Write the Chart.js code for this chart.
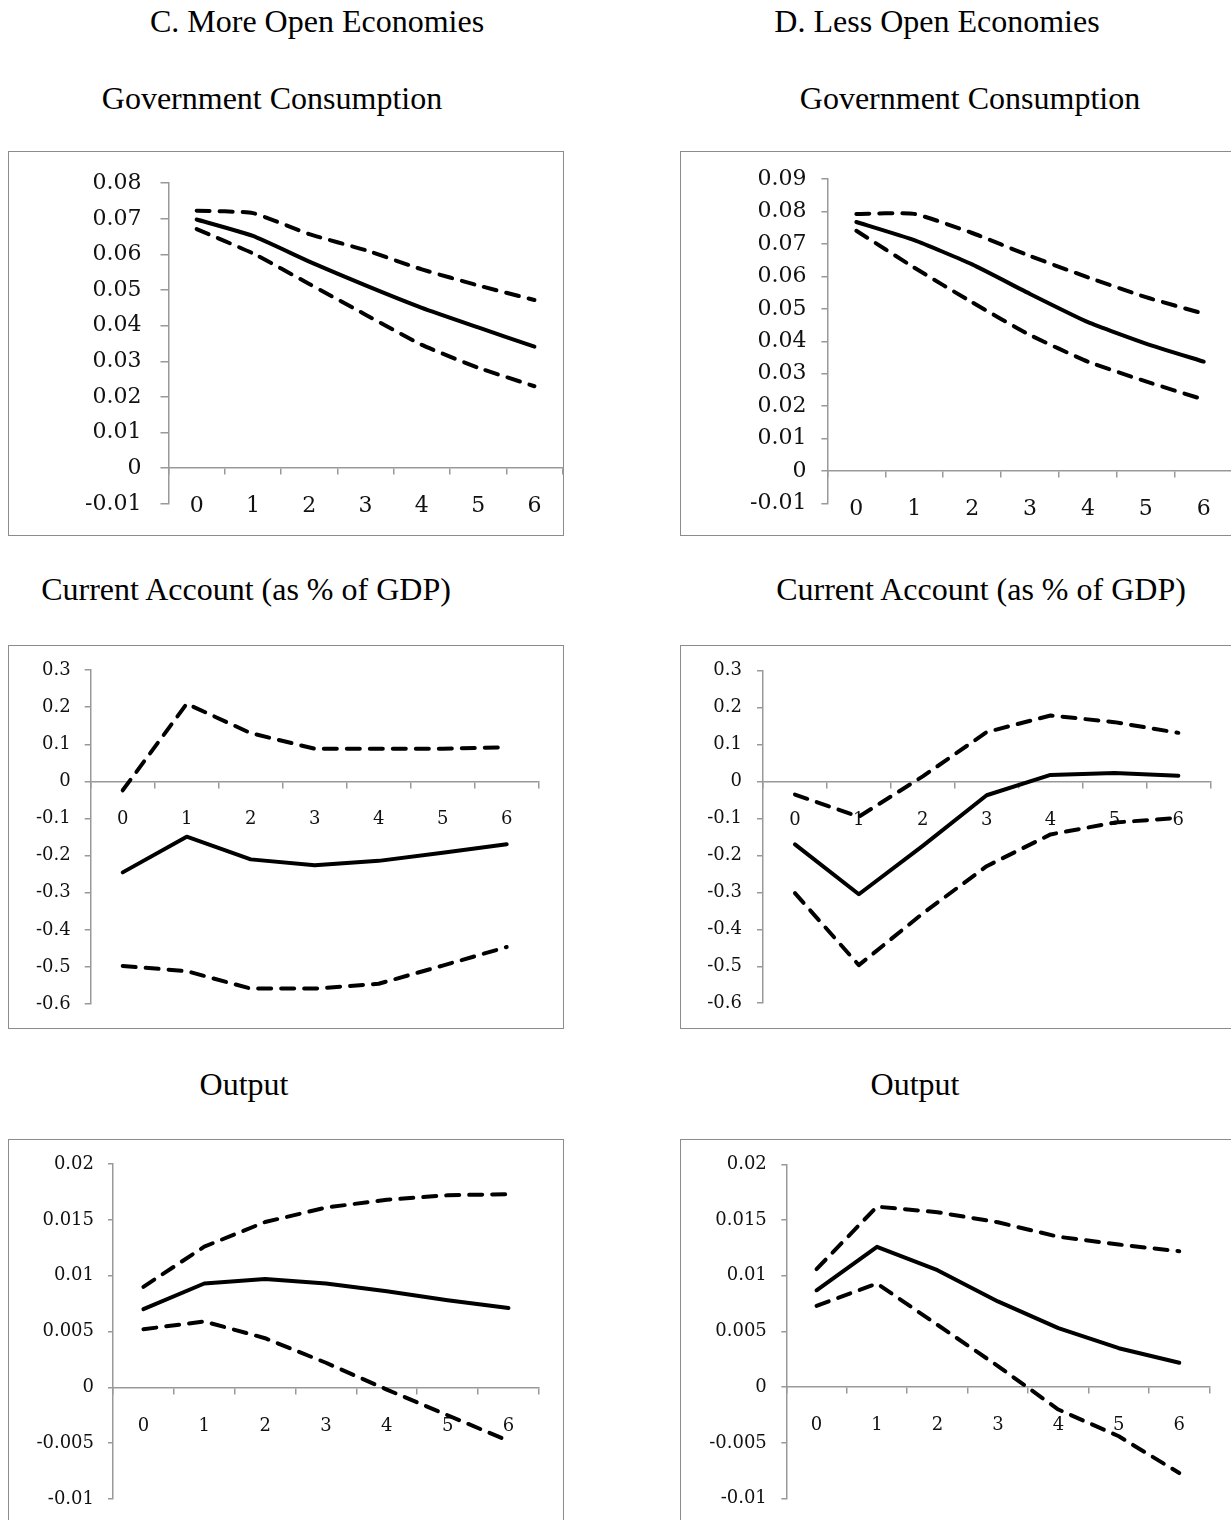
<!DOCTYPE html>
<html>
<head>
<meta charset="utf-8">
<script src="https://cdn.jsdelivr.net/npm/chart.js@4/dist/chart.umd.min.js"></script>
<style>
  html, body { margin: 0; padding: 0; background: #fff; }
  body { width: 1231px; height: 1520px; overflow: hidden; position: relative; }
  .lbl {
    position: absolute; width: 600px; text-align: center;
    font-family: "Liberation Serif", "Times New Roman", serif;
    font-size: 32px; line-height: 32px; color: #000; white-space: nowrap;
  }
  .box { position: absolute; box-sizing: border-box; border: 1.5px solid #8c8c8c; }
  canvas { position: absolute; }
</style>
</head>
<body>

<div class="lbl" style="left:17px; top:5px;">C. More Open Economies</div>
<div class="lbl" style="left:637px; top:5px;">D. Less Open Economies</div>
<div class="lbl" style="left:-28px; top:82px;">Government Consumption</div>
<div class="lbl" style="left:670px; top:82px;">Government Consumption</div>
<div class="lbl" style="left:-54px; top:573px;">Current Account (as % of GDP)</div>
<div class="lbl" style="left:681px; top:573px;">Current Account (as % of GDP)</div>
<div class="lbl" style="left:-56px; top:1068px;">Output</div>
<div class="lbl" style="left:615px; top:1068px;">Output</div>

<div class="box" style="left:8px; top:151px; width:556px; height:385px;"></div>
<canvas id="govMore" width="556" height="385" style="left:8px; top:151px;"></canvas>
<div class="box" style="left:680px; top:151px; width:556px; height:385px;"></div>
<canvas id="govLess" width="556" height="385" style="left:680px; top:151px;"></canvas>

<div class="box" style="left:8px; top:645px; width:556px; height:384px;"></div>
<canvas id="caMore" width="556" height="384" style="left:8px; top:645px;"></canvas>
<div class="box" style="left:680px; top:645px; width:556px; height:384px;"></div>
<canvas id="caLess" width="556" height="384" style="left:680px; top:645px;"></canvas>

<div class="box" style="left:8px; top:1139px; width:556px; height:385px;"></div>
<canvas id="outMore" width="556" height="385" style="left:8px; top:1139px;"></canvas>
<div class="box" style="left:680px; top:1139px; width:556px; height:385px;"></div>
<canvas id="outLess" width="556" height="385" style="left:680px; top:1139px;"></canvas>

<script>
// horizons (years after the shock)
const horizons = ['0', '1', '2', '3', '4', '5', '6'];

// government consumption
const govMoreMid   = [0.0698, 0.0652, 0.0580, 0.0513, 0.0450, 0.0395, 0.0341];
const govMoreUpper = [0.0723, 0.0716, 0.0657, 0.0612, 0.0558, 0.0513, 0.0472];
const govMoreLower = [0.0671, 0.0603, 0.0517, 0.0431, 0.0346, 0.0282, 0.0230];

const govLessMid   = [0.0768, 0.0712, 0.0637, 0.0546, 0.0459, 0.0393, 0.0337];
const govLessUpper = [0.0793, 0.0793, 0.0734, 0.0663, 0.0597, 0.0536, 0.0485];
const govLessLower = [0.0741, 0.0627, 0.0520, 0.0419, 0.0337, 0.0276, 0.0220];

// current account (% of GDP)
const caMoreMid   = [-0.245, -0.149, -0.210, -0.226, -0.214, -0.192, -0.169];
const caMoreUpper = [-0.024, 0.209, 0.130, 0.088, 0.088, 0.088, 0.092];
const caMoreLower = [-0.497, -0.511, -0.558, -0.558, -0.545, -0.496, -0.446];

const caLessMid   = [-0.170, -0.305, -0.174, -0.037, 0.018, 0.023, 0.016];
const caLessUpper = [-0.035, -0.095, 0.014, 0.134, 0.179, 0.161, 0.132];
const caLessLower = [-0.302, -0.497, -0.357, -0.229, -0.143, -0.111, -0.098];

// output
const outMoreMid   = [0.0070, 0.0093, 0.0097, 0.0093, 0.0086, 0.0078, 0.0071];
const outMoreUpper = [0.0090, 0.0126, 0.0148, 0.0161, 0.0168, 0.0172, 0.0173];
const outMoreLower = [0.0052, 0.0059, 0.0044, 0.0022, -0.0002, -0.0025, -0.0048];

const outLessMid   = [0.0087, 0.0126, 0.0105, 0.0077, 0.0053, 0.0035, 0.0022];
const outLessUpper = [0.0106, 0.0162, 0.0157, 0.0148, 0.0135, 0.0128, 0.0122];
const outLessLower = [0.0073, 0.0093, 0.0056, 0.0019, -0.0020, -0.0044, -0.0077];

// y axis ranges: [min, max, step]
const govMoreRange = [-0.01, 0.08, 0.01];
const govLessRange = [-0.01, 0.09, 0.01];
const caRange      = [-0.6, 0.3, 0.1];
const outRange     = [-0.01, 0.02, 0.005];

const AXIS = '#999999';

function line(data, dashed, tension) {
    return {
        data: data,
        borderColor: '#000',
        borderWidth: 4,
        borderDash: dashed ? [13, 10] : [],
        borderCapStyle: 'round',
        borderJoinStyle: 'round',
        tension: tension,
        pointRadius: 0,
        fill: false
    };
}

function drawPanel(id, mid, upper, lower, range, look) {
    const font = { family: '"DejaVu Serif", serif', size: look.fontSize };
    new Chart(document.getElementById(id), {
        type: 'line',
        data: {
            labels: horizons,
            datasets: [
                line(upper, true, look.tension),
                line(mid, false, look.tension),
                line(lower, true, look.tension)
            ]
        },
        options: {
            responsive: false,
            animation: false,
            layout: { padding: look.padding },
            plugins: { legend: { display: false }, tooltip: { enabled: false } },
            scales: {
                x: {
                    type: 'category',
                    position: { y: 0 },
                    offset: true,
                    grid: { offset: true, drawOnChartArea: false, drawTicks: true, tickLength: 6, color: AXIS, lineWidth: 1.5 },
                    border: { display: true, color: AXIS, width: 1.5 },
                    ticks: { color: '#111', font: font, padding: look.xPad, maxRotation: 0, autoSkip: false }
                },
                y: {
                    type: 'linear',
                    position: 'left',
                    min: range[0],
                    max: range[1],
                    afterFit: (scale) => { scale.width = look.yWidth; },
                    grid: { drawOnChartArea: false, drawTicks: true, tickLength: look.yTick, color: AXIS, lineWidth: 1.5 },
                    border: { display: true, color: AXIS, width: 1.5 },
                    ticks: {
                        stepSize: range[2],
                        color: '#111',
                        font: font,
                        padding: look.yPad,
                        callback: (v) => String(parseFloat(Number(v).toFixed(4)))
                    }
                }
            }
        }
    });
}

drawPanel('govMore', govMoreMid, govMoreUpper, govMoreLower, govMoreRange,
    { fontSize: 22, tension: 0.15, yWidth: 160.5, yTick: 8, yPad: 19, xPad: 19,
      padding: { left: 0, right: 1.4, top: 24.7, bottom: 28.3 } });
drawPanel('govLess', govLessMid, govLessUpper, govLessLower, govLessRange,
    { fontSize: 22, tension: 0.15, yWidth: 147.4, yTick: 6, yPad: 15, xPad: 19,
      padding: { left: 0, right: 3.3, top: 24.7, bottom: 32.7 } });
drawPanel('caMore', caMoreMid, caMoreUpper, caMoreLower, caRange,
    { fontSize: 18, tension: 0, yWidth: 82.7, yTick: 6, yPad: 14, xPad: 21,
      padding: { left: 0, right: 25.3, top: 25, bottom: 23.3 } });
drawPanel('caLess', caLessMid, caLessUpper, caLessLower, caRange,
    { fontSize: 18, tension: 0, yWidth: 83, yTick: 6, yPad: 15, xPad: 21.5,
      padding: { left: 0, right: 25.7, top: 25, bottom: 23.3 } });
drawPanel('outMore', outMoreMid, outMoreUpper, outMoreLower, outRange,
    { fontSize: 18, tension: 0, yWidth: 105, yTick: 5, yPad: 14, xPad: 22,
      padding: { left: 0, right: 25.1, top: 25, bottom: 25 } });
drawPanel('outLess', outLessMid, outLessUpper, outLessLower, outRange,
    { fontSize: 18, tension: 0, yWidth: 106.3, yTick: 5, yPad: 14.5, xPad: 21,
      padding: { left: 0, right: 26.5, top: 25, bottom: 25 } });
</script>
</body>
</html>
